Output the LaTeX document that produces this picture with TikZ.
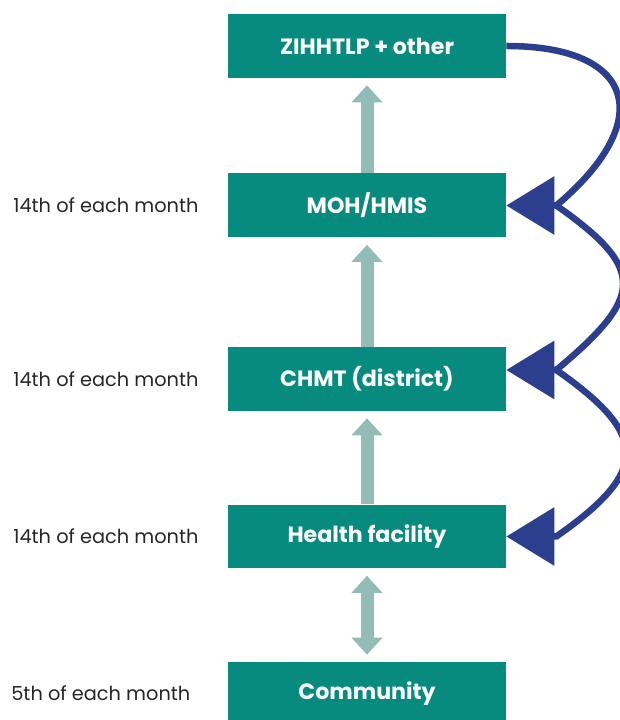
\documentclass[tikz,border=0pt]{standalone}
\usepackage{fontspec}
\setmainfont{Poppins}
\usetikzlibrary{arrows.meta}

\definecolor{boxteal}{HTML}{078B7F}
\definecolor{feedgrey}{HTML}{93BCB6}
\definecolor{backblue}{HTML}{2B3F8E}

\tikzset{
    tier/.style={fill=boxteal, text=white, font=\bfseries\fontsize{12.6}{14}\selectfont,
        minimum width=5.56cm, minimum height=1.28cm, inner sep=0pt},
    when/.style={anchor=west, inner sep=0pt, text=black!85, font=\fontsize{11}{13}\selectfont},
    feedtip/.tip={Triangle[length=0.34cm,width=0.6cm]},
    bighead/.tip={Triangle[length=0.96cm,width=1.14cm]},
    feed/.style={draw=feedgrey, line width=0.26cm, shorten >=0.14cm},
    backflow/.style={draw=backblue, line width=0.13cm, -bighead},
}

\begin{document}
\begin{tikzpicture}[x=0.02cm, y=0.02cm]
    \useasboundingbox (0, 0) rectangle (619, 720);

    % reporting levels
    \node[tier] (zih)  at (367, 674)   {ZIHHTLP + other};
    \node[tier] (moh)  at (367, 514.5) {MOH/HMIS};
    \node[tier] (chmt) at (367, 341)   {CHMT (district)};
    \node[tier] (hf)   at (367, 183.5) {Health facility};
    \node[tier] (comm) at (367, 26)    {Community};

    % deadlines
    \node[when] (tmoh)  at (13, 514.5) {14th of each month};
    \node[when] (tchmt) at (13, 341)   {14th of each month};
    \node[when] (thf)   at (13, 183.5) {14th of each month};
    \node[when] (tcomm) at (11, 27)    {5th of each month};

    % reports going up
    \draw[feed, -feedtip] (moh.north) -- (zih.south);
    \draw[feed, -feedtip] (chmt.north) -- (moh.south);
    \draw[feed, -feedtip] (hf.north) -- (chmt.south);
    \draw[feed, feedtip-feedtip, shorten <=0.14cm] (comm.north) -- (hf.south);

    % feedback coming down
    \draw[backflow] (zih.east) to[out=0, in=40, looseness=2.0]
        ([xshift=1cm]moh.east) -- (moh.east);
    \draw[backflow] ([xshift=1cm]moh.east) to[out=-35, in=40, looseness=1.75]
        ([xshift=1cm, yshift=0.18cm]chmt.east) -- ([yshift=0.18cm]chmt.east);
    \draw[backflow] ([xshift=1cm, yshift=0.18cm]chmt.east) to[out=-35, in=35, looseness=1.75]
        ([xshift=1cm]hf.east) -- (hf.east);
\end{tikzpicture}
\end{document}
